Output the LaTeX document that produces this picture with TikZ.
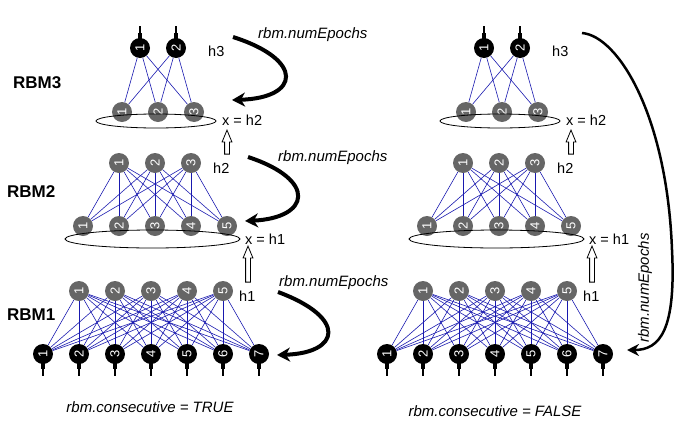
\documentclass[tikz,border=0pt]{standalone}
\usepackage{fontspec}
\setmainfont{Liberation Sans}
\usetikzlibrary{shapes.geometric,shapes.arrows,arrows.meta,positioning}
\definecolor{wireblue}{RGB}{25,25,175}

\begin{document}
\begin{tikzpicture}[
    x=1pt, y=-1pt,
    unit/.style = {circle, minimum size=20pt, inner sep=0pt, text=white,
                   font=\fontsize{13}{13}\selectfont},
    hidunit/.style = {unit, fill=black!60},
    visunit/.style = {unit, fill=black},
    wire/.style = {draw=wireblue, line width=0.6pt},
    stem/.style = {line width=1.3pt},
    inlayer/.style = {draw, ellipse, inner sep=0pt, line width=0.8pt},
    tag/.style = {anchor=west, inner sep=0pt, font=\fontsize{14.5}{14.5}\selectfont},
    rbm/.style = {anchor=west, inner sep=0pt, font=\bfseries\fontsize{17}{17}\selectfont},
    epochs/.style = {inner sep=0pt, font=\itshape\fontsize{15}{15}\selectfont},
    feed/.style = {draw, single arrow, shape border rotate=90, minimum height=24pt,
                   minimum width=9pt, inner sep=2pt, single arrow head extend=2.5pt,
                   single arrow tip angle=45, line width=0.8pt},
    epocharrow/.style = {line width=4pt, -{Stealth[length=13pt,width=14pt,inset=4pt]}},
  ]
    \useasboundingbox (0,0) rectangle (690,434);

    % both stacks, left and right
    \foreach \p/\dx in {L/0,R/344} {
      % RBM3
      \foreach \i in {1,2}
        \node[visunit] (\p-r3h\i) at ({\dx+140+36*(\i-1)},48) {\rotatebox{90}{\i}};
      \foreach \i in {1,2,3}
        \node[hidunit] (\p-r3v\i) at ({\dx+122+36*(\i-1)},112) {\rotatebox{90}{\i}};
      % RBM2
      \foreach \i in {1,2,3}
        \node[hidunit] (\p-r2h\i) at ({\dx+119+36*(\i-1)},163) {\rotatebox{90}{\i}};
      \foreach \i in {1,...,5}
        \node[hidunit] (\p-r2v\i) at ({\dx+83+36*(\i-1)},226) {\rotatebox{90}{\i}};
      % RBM1
      \foreach \i in {1,...,5}
        \node[hidunit] (\p-r1h\i) at ({\dx+79+36*(\i-1)},291) {\rotatebox{90}{\i}};
      \foreach \i in {1,...,7}
        \node[visunit] (\p-r1v\i) at ({\dx+43+36*(\i-1)},354) {\rotatebox{90}{\i}};

      \foreach \i in {1,2} \foreach \j in {1,2,3}
        \draw[wire] (\p-r3h\i) -- (\p-r3v\j);
      \foreach \i in {1,2,3} \foreach \j in {1,...,5}
        \draw[wire] (\p-r2h\i) -- (\p-r2v\j);
      \foreach \i in {1,...,5} \foreach \j in {1,...,7}
        \draw[wire] (\p-r1h\i) -- (\p-r1v\j);

      \foreach \i in {1,2} {
        \fill (\p-r3h\i.north) ++(-2,1) rectangle ++(4,-6);
        \draw[stem] (\p-r3h\i.north) -- ++(0,-12);
      }
      \foreach \i in {1,...,7} {
        \fill (\p-r1v\i.south) ++(-2,-1) rectangle ++(4,6);
        \draw[stem] (\p-r1v\i.south) -- ++(0,12);
      }

      \node[inlayer, minimum width=120pt, minimum height=14pt] (\p-in3) at ({\dx+156},121) {};
      \node[inlayer, minimum width=175pt, minimum height=18pt] (\p-in2) at ({\dx+152.5},239) {};

      \node[tag] (\p-h3) at ({\dx+208},51) {h3};
      \node[tag] (\p-x2) at ({\dx+222},120) {x = h2};
      \node[tag] (\p-h2) at ({\dx+213},168) {h2};
      \node[tag] (\p-x1) at ({\dx+245},239) {x = h1};
      \node[tag] (\p-h1) at ({\dx+239},296) {h1};
      \node[feed] (\p-up2) at ({\dx+227},145) {};
      \node[feed, minimum height=36pt] (\p-up1) at ({\dx+248},267) {};
    }

    \node[rbm] (lab3) at (13,83) {RBM3};
    \node[rbm] (lab2) at (7,192) {RBM2};
    \node[rbm] (lab1) at (7,315) {RBM1};

    % consecutive training
    \coordinate (e3s) at (233,37);  \coordinate (e3t) at (232,100);
    \coordinate (e2s) at (248,157); \coordinate (e2t) at (245,221);
    \coordinate (e1s) at (278,292); \coordinate (e1t) at (277,355);
    \draw[epocharrow] (e3s) .. controls (305,60) and (300,98) .. (e3t);
    \draw[epocharrow] (e2s) .. controls (318,180) and (310,218) .. (e2t);
    \draw[epocharrow] (e1s) .. controls (348,318) and (340,353) .. (e1t);
    \node[epochs, anchor=west] (ep3) at (258,35) {rbm.numEpochs};
    \node[epochs, anchor=west] (ep2) at (278,158) {rbm.numEpochs};
    \node[epochs, anchor=west] (ep1) at (279,283) {rbm.numEpochs};

    % one pass over all
    \coordinate (eas) at (582,33); \coordinate (eat) at (627,350);
    \draw[line width=2.5pt, -{Stealth[length=12pt,width=12pt,inset=4pt]}]
      (eas) .. controls (618,36) and (667,115) .. (672,250)
            .. controls (676,330) and (660,350) .. (eat);
    \node[epochs, rotate=90] (epall) at (645,288) {rbm.numEpochs};

    \node[epochs] (contrue) at (150,407) {rbm.consecutive = TRUE};
    \node[epochs] (confalse) at (495,411) {rbm.consecutive = FALSE};
\end{tikzpicture}
\end{document}
